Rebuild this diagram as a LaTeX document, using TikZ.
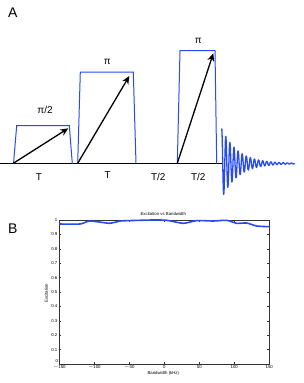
\documentclass[tikz,border=0pt]{standalone}
\usepackage{fontspec}
\setmainfont{Liberation Sans}
\usetikzlibrary{arrows.meta}
\definecolor{pulseblue}{RGB}{40,75,240}
\tikzset{
  pulse/.style={draw=pulseblue, line width=1pt, line join=miter},
  vec/.style={draw=black, line width=1.3pt, -{Stealth[length=8pt,width=7pt]}},
  lbl/.style={font=\fontsize{10}{10}\selectfont, inner sep=0pt},
  panel/.style={font=\fontsize{14}{14}\selectfont, inner sep=0pt},
  tick/.style={font=\fontsize{4.3}{4.3}\selectfont, inner sep=0pt},
  axis/.style={draw=black!80, line width=0.5pt}
}
\begin{document}
\begin{tikzpicture}[x=1pt,y=-1pt]
\useasboundingbox (0,0) rectangle (304,383);
% ---------- Panel A ----------
\node[panel] (A) at (12.7,12.7) {A};
% baseline
\coordinate (b0) at (0,163.5);
\coordinate (b1) at (222,163.5);
\draw[line width=1.5pt] (b0) -- (b1);
% pulses
\draw[pulse] (13.5,163.5) -- (16.7,125.7) -- (69.3,125.7) -- (72.3,163.5);
\draw[pulse] (77.7,163.5) -- (80.3,72) -- (133.3,72) -- (136,163.5);
\draw[pulse] (177.3,163.5) -- (180,50.7) -- (215,50.7) -- (216.7,163.5);
% FID
\draw[draw=pulseblue, line width=1.3pt, line join=round] plot[domain=0:73, samples=900]
  ({221.7+\x}, {163.5 - 35*exp(-\x/16)*cos(87.8*\x)});
% vectors
\coordinate (s1) at (13.3,163.3);  \coordinate (e1) at (68.3,128.3);
\coordinate (s2) at (77.7,163.3);  \coordinate (e2) at (129.3,76);
\coordinate (s3) at (177.3,163.3); \coordinate (e3) at (213.3,53.3);
\draw[vec] (s1) -- (e1);
\draw[vec] (s2) -- (e2);
\draw[vec] (s3) -- (e3);
% labels
\node[lbl] (l1) at (45,110) {π/2};
\node[lbl] (l2) at (107.3,62.3) {π};
\node[lbl] (l3) at (198.3,40.7) {π};
\node[lbl] (t1) at (39,176.7) {T};
\node[lbl] (t2) at (107.7,175.5) {T};
\node[lbl] (t3) at (158.3,176.7) {T/2};
\node[lbl] (t4) at (198.3,176.7) {T/2};
% ---------- Panel B ----------
\node[panel] (B) at (12.7,228.3) {B};
\draw[axis] (59.3,220) rectangle (269.3,364);
% y ticks
\foreach \v/\t in {1/0.1,2/0.2,3/0.3,4/0.4,5/0.5,6/0.6,7/0.7,8/0.8,9/0.9,10/1}{
  \draw[axis] (59.3,{364-14.4*\v}) -- ++(2,0);
  \draw[axis] (269.3,{364-14.4*\v}) -- ++(-2,0);
  \node[tick, anchor=east] at (57.5,{364-14.4*\v}) {\t};
}
\node[tick, anchor=east] (y0) at (58.3,361.3) {0};
% x ticks
\foreach \k/\t in {-150/$-$150,-100/$-$100,-50/$-$50,0/0,50/50,100/100,150/150}{
  \draw[axis] ({164.3+0.7*\k},364) -- ++(0,-2);
  \draw[axis] ({164.3+0.7*\k},220) -- ++(0,2);
  \node[tick] at ({164.3+0.7*\k},367.2) {\t};
}
\node[tick] (title) at (163.3,214.3) {Excitation vs Bandwidth};
\node[tick] (xl) at (163.3,373.3) {Bandwidth (kHz)};
\node[tick, rotate=90] (yl) at (46.3,293) {Excitation};
% curve
\draw[draw=pulseblue, line width=1.6pt, line join=round] plot[smooth, tension=0.4] coordinates {
 (59.3,224) (80,224) (90,221) (110,223.3) (120,221) (140,220.3) (153.3,220)
 (166.7,220.3) (183.3,223.3) (196.7,220.6) (213.3,221) (226.7,220.3)
 (236.7,223.3) (246.7,223) (256.7,226) (269.3,226.7)};
\end{tikzpicture}
\end{document}
